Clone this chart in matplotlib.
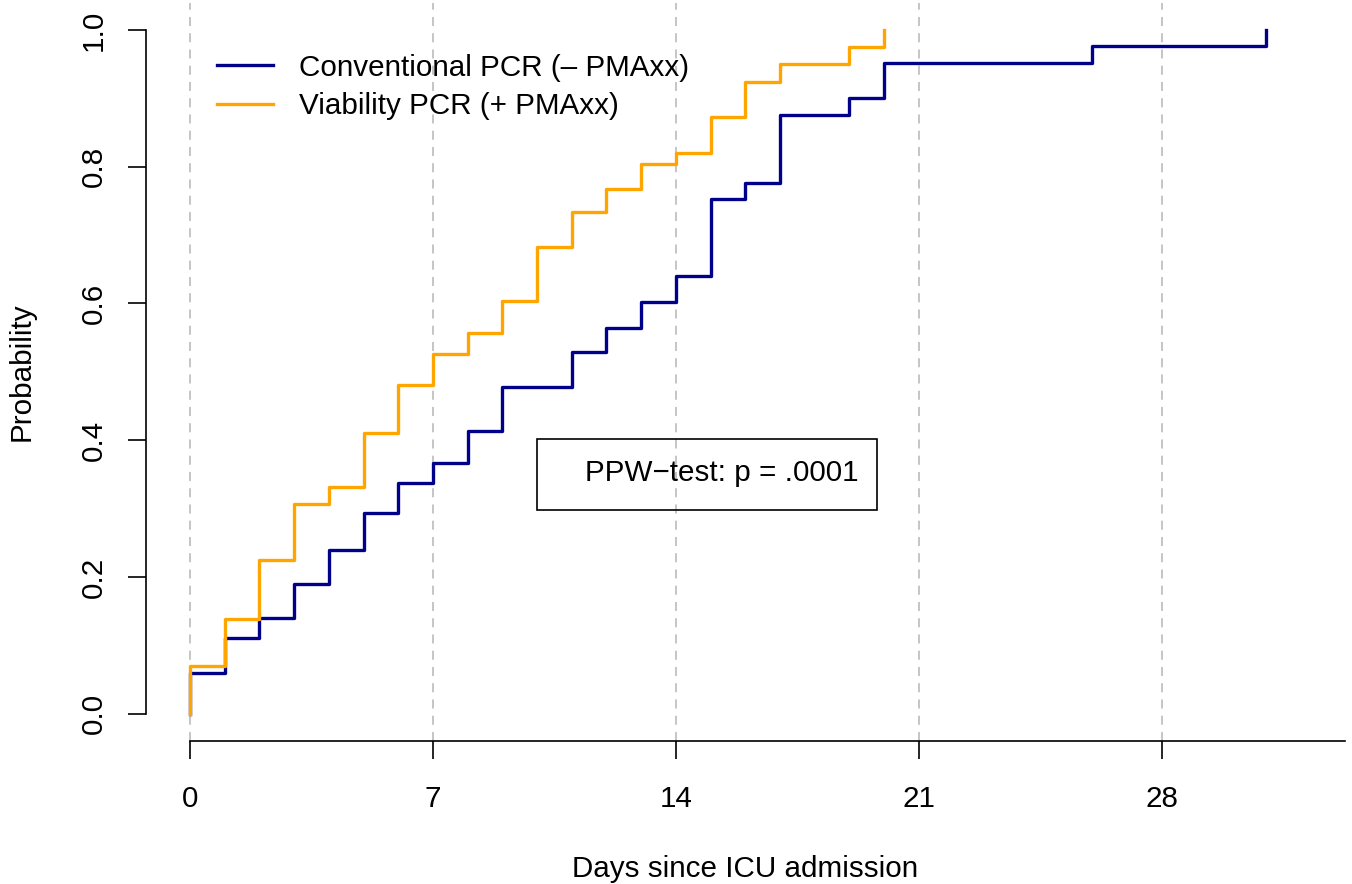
import matplotlib
matplotlib.use("Agg")
import matplotlib.pyplot as plt
from matplotlib.patches import Rectangle

plt.rcParams['font.family'] = ['Liberation Sans', 'DejaVu Sans']

# step curves (days since ICU admission, cumulative probability)
conv_days = [0, 0, 1, 2, 3, 4, 5, 6, 7, 8, 9, 11, 12, 13, 14, 15, 16, 17, 19, 20, 26, 31]
conv_prob = [0.0, 0.060, 0.110, 0.140, 0.190, 0.240, 0.294, 0.338, 0.367, 0.414, 0.478,
             0.529, 0.564, 0.602, 0.640, 0.753, 0.776, 0.876, 0.900, 0.952, 0.977, 1.0]
via_days = [0, 0, 1, 2, 3, 4, 5, 6, 7, 8, 9, 10, 11, 12, 13, 14, 15, 16, 17, 19, 20]
via_prob = [0.0, 0.069, 0.139, 0.224, 0.306, 0.332, 0.411, 0.481, 0.526, 0.556, 0.604,
            0.683, 0.734, 0.768, 0.804, 0.820, 0.873, 0.924, 0.950, 0.975, 1.0]
labels = ["Conventional PCR (\u2013 PMAxx)", "Viability PCR (+ PMAxx)"]
x_ticks = [0, 7, 14, 21, 28]
y_ticks = [0.0, 0.2, 0.4, 0.6, 0.8, 1.0]
test_text = "PPW\u2212test: p = .0001"

fs = 21.3
fig = plt.figure(figsize=(13.52, 8.84), dpi=100)
ax = fig.add_axes([0.1077, 0.1618, 0.8871, 0.8353])

ax.step(conv_days, conv_prob, where="post", color="#00008B", lw=2.4, label=labels[0])
ax.step(via_days, via_prob, where="post", color="#FFA500", lw=2.4, label=labels[1])

ax.set_xlim(-1.28, 33.28)
ax.set_ylim(-0.04, 1.04)
ax.set_xticks(x_ticks)
ax.set_yticks(y_ticks)
ax.set_yticklabels(["%.1f" % v for v in y_ticks], rotation=90, va="center")
ax.tick_params(axis="both", length=13, width=1.2, labelsize=fs)
ax.tick_params(axis="x", pad=19)
ax.tick_params(axis="y", pad=14)

ax.xaxis.grid(True, color="#C0C0C0", lw=1.3, ls=(0, (5, 4)))
ax.set_axisbelow(True)

for s in ["top", "right"]:
    ax.spines[s].set_visible(False)
ax.spines["left"].set_bounds(0, 1)
ax.spines["bottom"].set_bounds(0, 33.28)
ax.spines["left"].set_linewidth(1.2)
ax.spines["bottom"].set_linewidth(1.2)

ax.set_xlabel("Days since ICU admission", fontsize=fs, labelpad=30)
ax.set_ylabel("Probability", fontsize=fs, labelpad=32)

ax.legend(loc="upper left", bbox_to_anchor=(0.0375, 0.967), frameon=False, fontsize=fs,
          handlelength=1.9, handletextpad=0.88, labelspacing=0.36)

# test result box
ax.add_patch(Rectangle((10.0, 0.298), 9.8, 0.103, fill=False, ec="black", lw=1.2))
ax.text(19.27, 0.352, test_text, ha="right", va="center", fontsize=fs)

fig.savefig("out.png", dpi=100)
